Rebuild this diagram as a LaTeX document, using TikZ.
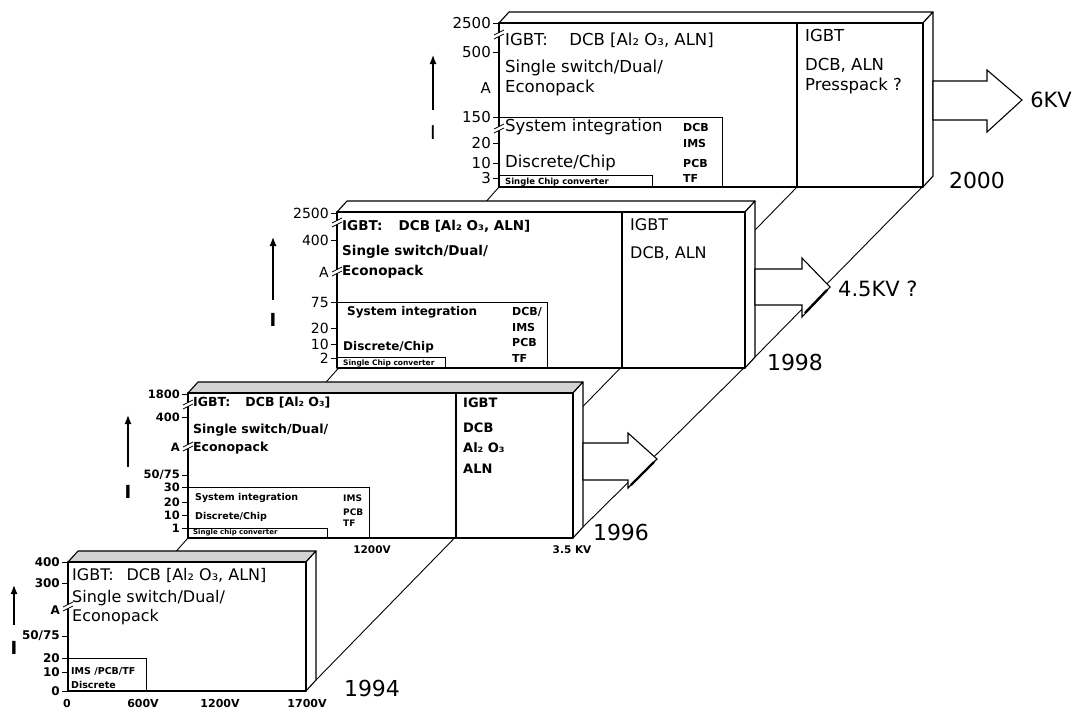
\documentclass[tikz,border=0pt]{standalone}
\usepackage{fontspec}
\setmainfont{DejaVu Sans}
\usetikzlibrary{arrows.meta}

\newcommand{\fsz}[1]{\fontsize{#1}{#1}\selectfont}

\begin{document}
\begin{tikzpicture}[
    x=1pt, y=-1pt,
    slabline/.style={draw, line width=1.1pt, line join=round},
    floorline/.style={draw, line width=0.9pt},
    tickline/.style={draw, line width=0.8pt},
    areabox/.style={draw, line width=0.9pt},
    iaxis/.style={draw, line width=1.2pt, -{Latex[length=9pt,width=7pt]}},
    blockarrow/.style={draw, line width=1.1pt, fill=white, line join=miter},
    ticklbl/.style={anchor=east, inner sep=0pt},
    rowtxt/.style={anchor=west, inner sep=0pt},
    yearlbl/.style={inner sep=0pt, font=\fsz{22}},
    kvlbl/.style={inner sep=0pt, font=\fsz{21}}
]
    \useasboundingbox (0,0) rectangle (1085,713);

    % Floor lines (hidden parts are covered by the slabs)
    \coordinate (l0) at (133,600);
    \coordinate (l00) at (499,187);
    \coordinate (r94) at (316,680);
    \coordinate (d00) at (797,187);
    \coordinate (r96) at (583,527);
    \coordinate (r98) at (755,357);
    \coordinate (r00) at (933,176);
    \draw[floorline] (l0) -- (l00);
    \draw[floorline] (r94) -- (d00);
    \draw[floorline] (r96) -- (r98) -- (r00);

    % Slabs: top, right side, front
    \foreach \l/\t/\r/\b/\c in {499/23/923/187/white, 337/212/745/368/white, 188/393/573/538/gray!35, 68/562/306/691/gray!35} {
        \draw[slabline, fill=\c] (\l,\t) -- (\l+10,\t-11) -- (\r+10,\t-11) -- (\r,\t) -- cycle;
        \draw[slabline, fill=white] (\r,\t) -- (\r+10,\t-11) -- (\r+10,\b-11) -- (\r,\b) -- cycle;
        \draw[slabline, fill=white] (\l,\t) rectangle (\r,\b);
    }

    % Dividers
    \draw[slabline] (797,23) -- (797,187);
    \draw[slabline] (622,212) -- (622,368);
    \draw[slabline] (456,393) -- (456,538);

    % Areas
    \draw[areabox] (499,117) -| (722,187);
    \draw[areabox] (499,175) -| (652,187);
    \draw[areabox] (337,302) -| (547,368);
    \draw[areabox] (337,357) -| (445,368);
    \draw[areabox] (188,487) -| (369,538);
    \draw[areabox] (188,528) -| (327,538);
    \draw[areabox] (68,658) -| (146,691);

    % Current axes
    \begin{scope}[font=\fsz{15}]
        \foreach \v/\y [count=\i] in {2500/23, 500/52, 150/117, 20/143, 10/163, 3/178} {
            \draw[tickline] (493,\y) -- (499,\y);
            \node[ticklbl] (t00-\i) at (491,\y) {\v};
        }
        \node[ticklbl] (a00) at (491,88) {A};
    \end{scope}
    \begin{scope}[font=\fsz{14}]
        \foreach \v/\y [count=\i] in {2500/213, 400/240, 75/302, 20/328, 10/344, 2/358} {
            \draw[tickline] (331,\y) -- (337,\y);
            \node[ticklbl] (t98-\i) at (329,\y) {\v};
        }
        \node[ticklbl] (a98) at (329,272) {A};
    \end{scope}
    \begin{scope}[font=\bfseries\fsz{11.5}]
        \foreach \v/\y [count=\i] in {1800/394, 400/417, {50/75}/475, 30/487, 20/502, 10/515, 1/528} {
            \draw[tickline] (182,\y) -- (188,\y);
            \node[ticklbl] (t96-\i) at (180,\y) {\v};
        }
        \node[ticklbl] (a96) at (180,447) {A};
    \end{scope}
    \begin{scope}[font=\bfseries\fsz{12}]
        \foreach \v/\y [count=\i] in {400/562, 300/583, {50/75}/636, 20/658, 10/672, 0/691} {
            \draw[tickline] (62,\y) -- (68,\y);
            \node[ticklbl] (t94-\i) at (60,\y) {\v};
        }
        \node[ticklbl] (a94) at (60,610) {A};
    \end{scope}

    % Axis breaks
    \foreach \x/\y in {499/34, 499/128, 337/222, 337/271, 188/404, 188/446, 68/606} {
        \fill[white] (\x-3,\y) -- (\x+3,\y-3) -- (\x+3,\y+1) -- (\x-3,\y+4) -- cycle;
        \draw[tickline] (\x-5,\y+1) -- (\x+5,\y-4) (\x-5,\y+5) -- (\x+5,\y);
    }

    % I arrows
    \coordinate (i00b) at (433,110); \coordinate (i00t) at (433,55);
    \coordinate (i98b) at (273,300); \coordinate (i98t) at (273,237);
    \coordinate (i96b) at (128,467); \coordinate (i96t) at (128,415);
    \coordinate (i94b) at (14,625);  \coordinate (i94t) at (14,585);
    \draw[iaxis] (i00b) -- (i00t);
    \draw[iaxis] (i98b) -- (i98t);
    \draw[iaxis] (i96b) -- (i96t);
    \draw[iaxis] (i94b) -- (i94t);
    \node[font=\fsz{19}] (i00) at (433,133) {I};
    \node[font=\bfseries\fsz{18}] (i98) at (273,320) {I};
    \node[font=\bfseries\fsz{18}] (i96) at (128,492) {I};
    \node[font=\bfseries\fsz{18}] (i94) at (14,648) {I};

    % 2000
    \begin{scope}[font=\fsz{16.5}]
        \node[rowtxt] (p00-1) at (505,40) {IGBT:\hspace{1.3em}DCB [Al₂ O₃, ALN]};
        \node[rowtxt] (p00-2) at (505,68) {Single switch/Dual/};
        \node[rowtxt] (p00-3) at (505,88) {Econopack};
        \node[rowtxt] (p00-4) at (505,127) {System integration};
        \node[rowtxt] (p00-5) at (505,163) {Discrete/Chip};
        \node[rowtxt] (q00-1) at (805,35) {IGBT};
        \node[rowtxt] (q00-2) at (805,65) {DCB, ALN};
        \node[rowtxt] (q00-3) at (805,86) {Presspack ?};
    \end{scope}
    \foreach \s/\y [count=\i] in {DCB/127, IMS/143, PCB/163, TF/178}
        \node[rowtxt, font=\bfseries\fsz{11}] (c00-\i) at (683,\y) {\s};
    \node[rowtxt, font=\bfseries\fsz{8.5}] (s00) at (505,182) {Single Chip converter};

    % 1998
    \begin{scope}[font=\bfseries\fsz{13.5}]
        \node[rowtxt] (p98-1) at (342,226) {IGBT:\hspace{1.2em}DCB [Al₂ O₃, ALN]};
        \node[rowtxt] (p98-2) at (342,252) {Single switch/Dual/};
        \node[rowtxt] (p98-3) at (342,272) {Econopack};
        \node[rowtxt, font=\bfseries\fsz{12}] (p98-4) at (347,312) {System integration};
        \node[rowtxt, font=\bfseries\fsz{12}] (p98-5) at (343,347) {Discrete/Chip};
    \end{scope}
    \foreach \s/\y [count=\i] in {{DCB/}/312, IMS/327, PCB/342, TF/358}
        \node[rowtxt, font=\bfseries\fsz{11}] (c98-\i) at (512,\y) {\s};
    \node[rowtxt, font=\bfseries\fsz{7.5}] (s98) at (343,363) {Single Chip converter};
    \node[rowtxt, font=\fsz{16}] (q98-1) at (630,225) {IGBT};
    \node[rowtxt, font=\fsz{16}] (q98-2) at (630,253) {DCB, ALN};

    % 1996
    \begin{scope}[font=\bfseries\fsz{12.5}]
        \node[rowtxt] (p96-1) at (193,403) {IGBT:\hspace{1.2em}DCB [Al₂ O₃]};
        \node[rowtxt] (p96-2) at (193,430) {Single switch/Dual/};
        \node[rowtxt] (p96-3) at (193,448) {Econopack};
        \node[rowtxt, font=\bfseries\fsz{9.5}] (p96-4) at (195,498) {System integration};
        \node[rowtxt, font=\bfseries\fsz{9.5}] (p96-5) at (195,517) {Discrete/Chip};
    \end{scope}
    \foreach \s/\y [count=\i] in {IMS/498, PCB/512, TF/523}
        \node[rowtxt, font=\bfseries\fsz{9}] (c96-\i) at (343,\y) {\s};
    \node[rowtxt, font=\bfseries\fsz{7}] (s96) at (193,533) {Single chip converter};
    \foreach \s/\y [count=\i] in {IGBT/403, DCB/428, Al₂ O₃/448, ALN/469}
        \node[rowtxt, font=\bfseries\fsz{13}] (q96-\i) at (463,\y) {\s};
    \node[font=\bfseries\fsz{10.5}] (v96-1) at (372,550) {1200V};
    \node[font=\bfseries\fsz{10.5}] (v96-2) at (572,550) {3.5 KV};

    % 1994
    \begin{scope}[font=\fsz{16}]
        \node[rowtxt] (p94-1) at (72,575) {IGBT:\hspace{0.8em}DCB [Al₂ O₃, ALN]};
        \node[rowtxt] (p94-2) at (72,598) {Single switch/Dual/};
        \node[rowtxt] (p94-3) at (72,617) {Econopack};
    \end{scope}
    \node[rowtxt, font=\bfseries\fsz{9.5}] (p94-4) at (71,671) {IMS /PCB/TF};
    \node[rowtxt, font=\bfseries\fsz{9.5}] (p94-5) at (71,685) {Discrete};
    \foreach \s/\x [count=\i] in {0/67, 600V/143, 1200V/220, 1700V/307}
        \node[font=\bfseries\fsz{11}] (v94-\i) at (\x,703) {\s};

    % Voltage arrows
    \draw[blockarrow] (933,81) -- (987,81) -- (987,70) -- (1022,100) -- (987,132) -- (987,120) -- (933,120) -- cycle;
    \draw[blockarrow] (755,269) -- (802,269) -- (802,258) -- (830,287) -- (802,317) -- (802,305) -- (755,305) -- cycle;
    \draw[line width=2.4pt] (827,290) -- (805,313);
    \draw[blockarrow] (583,443) -- (628,443) -- (628,433) -- (657,459) -- (628,488) -- (628,480) -- (583,480) -- cycle;
    \draw[line width=2.4pt] (654,462) -- (631,485);
    \node[kvlbl] (kv00) at (1051,100) {6KV};
    \node[kvlbl, anchor=west] (kv98) at (838,289) {4.5KV ?};

    % Years
    \node[yearlbl] (y00) at (977,180) {2000};
    \node[yearlbl] (y98) at (795,362) {1998};
    \node[yearlbl] (y96) at (621,532) {1996};
    \node[yearlbl] (y94) at (372,688) {1994};

\end{tikzpicture}
\end{document}
